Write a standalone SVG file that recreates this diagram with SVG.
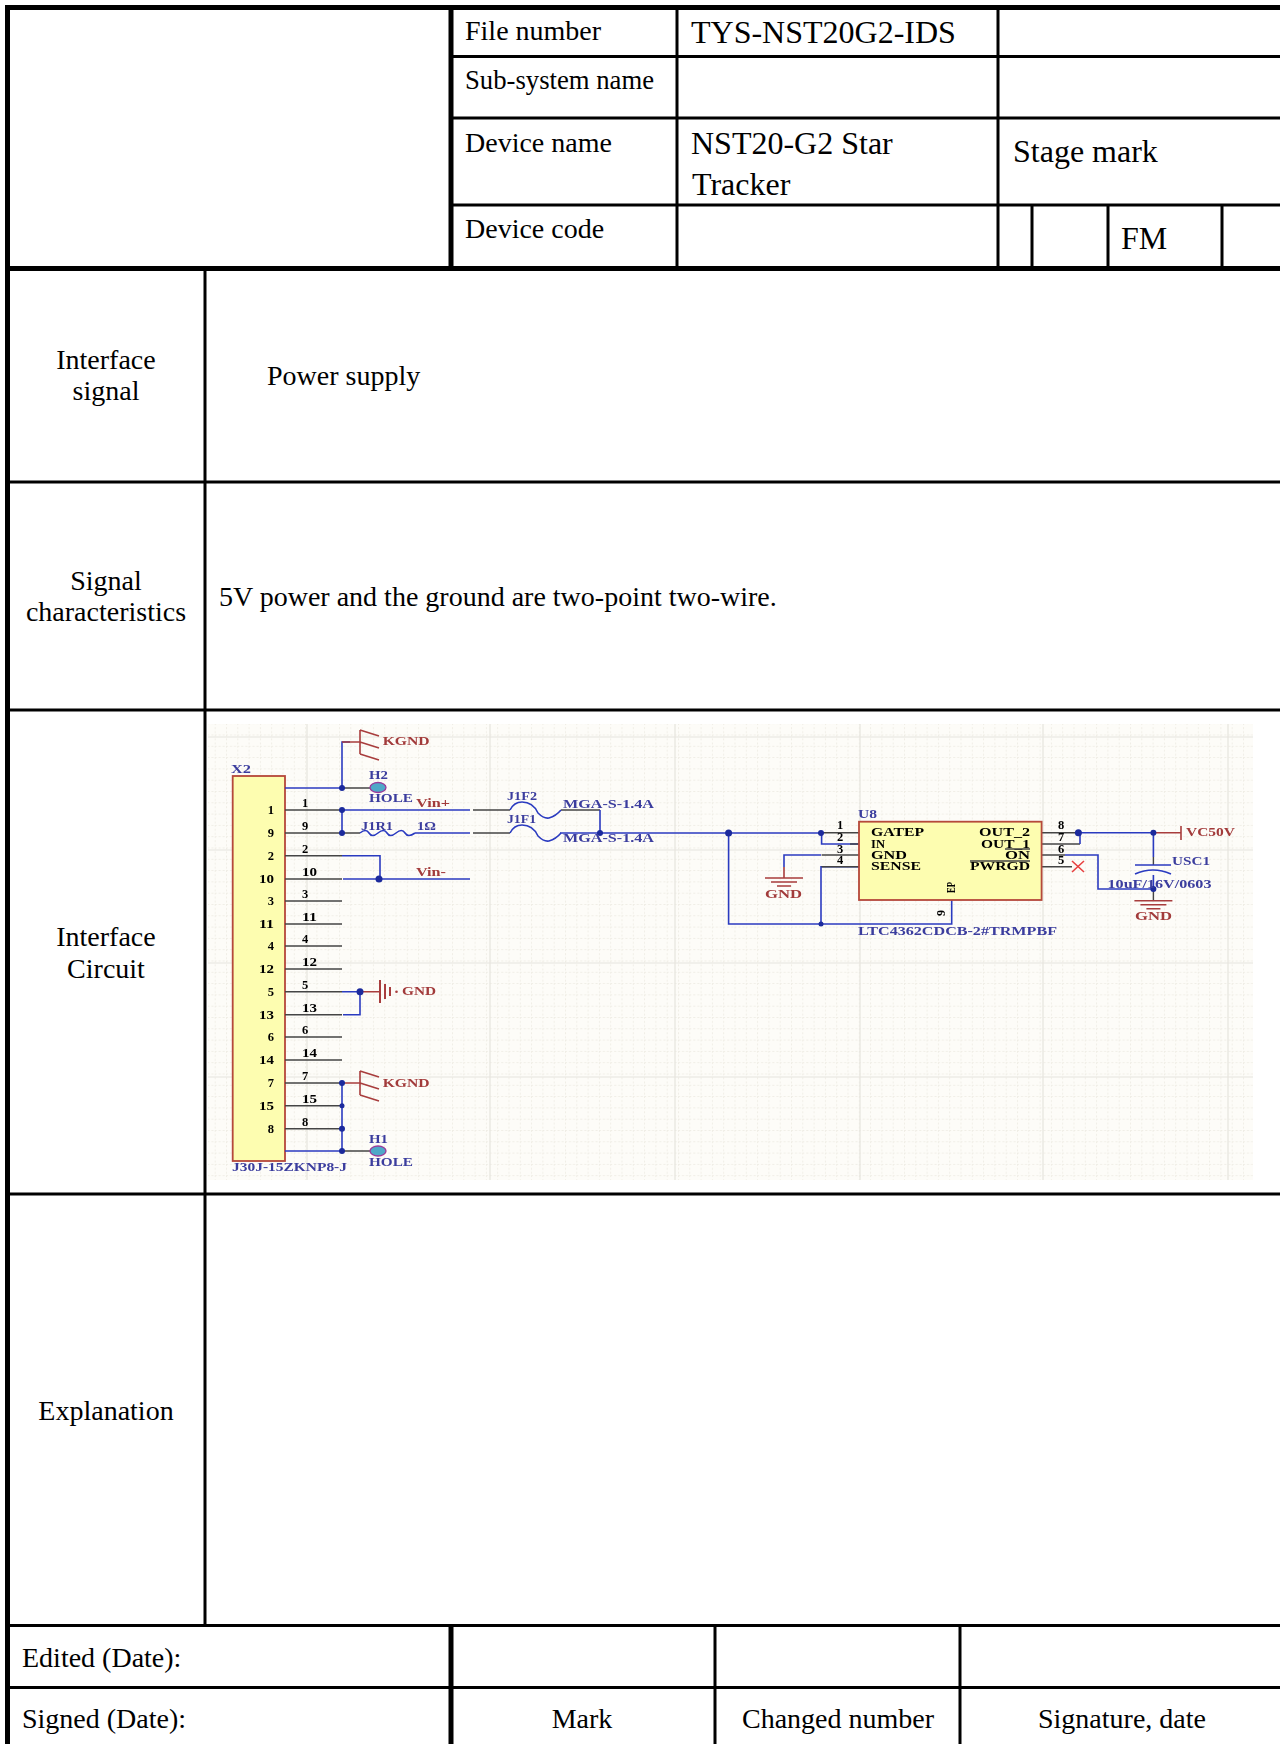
<svg xmlns="http://www.w3.org/2000/svg" width="1280" height="1744" viewBox="0 0 1280 1744">
<defs>
<style>
text{font-family:"Liberation Serif","Times New Roman",serif;fill:#000}
.t{font-size:28px}.b{font-size:32px}.m{text-anchor:middle}
.ln{stroke:#000;stroke-width:3;fill:none}
.th{stroke:#000;stroke-width:5;fill:none}
.s text{font-size:12.5px;font-weight:bold;stroke-width:0}
.s .bl{fill:#3b3d9e}.s .rd{fill:#a23a3a}.s .dk{fill:#555}
.w{stroke:#2b3bc0;stroke-width:1.6;fill:none}
.k{stroke:#444;stroke-width:1.4;fill:none}
.r{stroke:#a83c3c;stroke-width:1.6;fill:none}
.j{fill:#1a2a9c}
.grid{stroke:#e6e4de;stroke-width:1.2;fill:none}
</style>
<filter id="soft" x="-2%" y="-2%" width="104%" height="104%"><feGaussianBlur stdDeviation="0.5"/></filter>
<pattern id="dots" width="11.3" height="11.3" patternUnits="userSpaceOnUse"><path d="M0 .5H11.3M.5 0V11.3" stroke="#efede5" stroke-width="1" stroke-dasharray="2 2"/></pattern>
<g id="kg"><path class="r" d="M360 -12V12M360 -12L379 -6M360 0L379 6M360 12L379 18"/></g>
<g id="gn"><path class="r" d="M-19 0H19M-13 4H13M-7 8H7"/></g>
</defs>
<rect width="1280" height="1744" fill="#fff"/>

<g id="schematic" class="s" filter="url(#soft)">
<rect x="208" y="724" width="1045" height="456" fill="#fdfcf8"/>
<rect x="208" y="724" width="1045" height="456" fill="url(#dots)"/>
<path class="grid" d="M208 737H1253M208 850H1253M208 963H1253M208 1077H1253M307 724V1180M490 724V1180M675 724V1180M860 724V1180M1043 724V1180M1228 724V1180"/>

<g id="x2">
<rect x="232.700" y="776" width="52.300" height="385" fill="#fdfdb0" stroke="#b5483a" stroke-width="1.800"/>
<text class="bl" x="231" y="773" textLength="20" lengthAdjust="spacingAndGlyphs">X2</text>
<text class="bl" x="232" y="1171" textLength="115" lengthAdjust="spacingAndGlyphs">J30J-15ZKNP8-J</text>
<g class="dk" text-anchor="end">
<text x="274" y="814">1</text><text x="274" y="837">9</text><text x="274" y="860">2</text><text x="274" y="883" textLength="15" lengthAdjust="spacingAndGlyphs">10</text><text x="274" y="905">3</text><text x="274" y="928" textLength="15" lengthAdjust="spacingAndGlyphs">11</text><text x="274" y="950">4</text><text x="274" y="973" textLength="15" lengthAdjust="spacingAndGlyphs">12</text><text x="274" y="996">5</text><text x="274" y="1019" textLength="15" lengthAdjust="spacingAndGlyphs">13</text><text x="274" y="1041">6</text><text x="274" y="1064" textLength="15" lengthAdjust="spacingAndGlyphs">14</text><text x="274" y="1087">7</text><text x="274" y="1110" textLength="15" lengthAdjust="spacingAndGlyphs">15</text><text x="274" y="1133">8</text>
</g>
<g class="dk">
<text x="302" y="807">1</text><text x="302" y="830">9</text><text x="302" y="853">2</text><text x="302" y="876" textLength="15" lengthAdjust="spacingAndGlyphs">10</text><text x="302" y="898">3</text><text x="302" y="921" textLength="15" lengthAdjust="spacingAndGlyphs">11</text><text x="302" y="943">4</text><text x="302" y="966" textLength="15" lengthAdjust="spacingAndGlyphs">12</text><text x="302" y="989">5</text><text x="302" y="1012" textLength="15" lengthAdjust="spacingAndGlyphs">13</text><text x="302" y="1034">6</text><text x="302" y="1057" textLength="15" lengthAdjust="spacingAndGlyphs">14</text><text x="302" y="1080">7</text><text x="302" y="1103" textLength="15" lengthAdjust="spacingAndGlyphs">15</text><text x="302" y="1126">8</text>
</g>
</g>

<g id="connectors">
<path class="k" d="M285 810H342M285 833H360M285 855.700H342M285 879H342M285 901H342M285 924H342M285 946H342M285 969H342M285 991.700H342M285 1014.700H342M285 1037H342M285 1060H342M285 1083H342M285 1105.700H342M285 1128.700H342M342 788H371M342 1151H371M473 810H510M473 833H510M561 810H600"/>
<path class="w" d="M285 788H342V742H350M342 810H470M342 810V833M415 833H470M285 1151H342M342 1083V1151M342 855.700H380V879M343 879H470M342 991.700H360V1014.700H343M600 810V833M560 833H821.600M821.600 833V844H859M728.600 833V924H951.700V900M821 924V866.700H859"/>
<path class="w" d="M360 833q6 -5 9 0t9 0t9 0t9 0t9 0t10 0"/>
<path class="w" d="M510 810q4 -8 12 -8q11 0 16 11q6 6 11 5q7 -2 12 -8M510 833q4 -8 12 -8q11 0 16 11q6 6 11 5q7 -2 12 -8"/>
<path class="k" d="M821.600 855H859M821.600 866.700H859M821.600 832.700H859M859 844H850M1041.600 832.700H1080M1041.600 844H1080M1041.600 855H1065M1041.600 866.700H1072"/>
<path class="w" d="M1080 832.700H1153.400M1080 832.700V844M1065 855H1098V889H1153.400M821 855H784V867M1153.400 832.700V857M1153.400 875V889"/>
<path class="k" d="M1153.400 857V865M1153.400 889V900"/>
<path class="r" d="M784 867V878M1153.400 832.700H1181M1181 826V840M342 742H360M360 991.700H380M342 1083H360"/>
<path class="r" d="M1072 861L1084 872M1072 872L1084 861" style="stroke:#e84040"/>
<path class="w" d="M1135 865H1171M1135 874Q1153 866 1171 874"/>
<g class="j">
<circle cx="342" cy="788" r="3"/><circle cx="342" cy="810" r="3"/><circle cx="342" cy="833" r="3"/><circle cx="379" cy="879" r="3.500"/><circle cx="600" cy="833" r="3"/><circle cx="360" cy="991.700" r="3.500"/><circle cx="342" cy="1083" r="3"/><circle cx="342" cy="1105.700" r="2.500"/><circle cx="342" cy="1128.700" r="3"/><circle cx="342" cy="1151" r="3"/><circle cx="728.600" cy="833" r="3.500"/><circle cx="821" cy="833" r="3"/><circle cx="821" cy="924" r="2.500"/><circle cx="1078.400" cy="832.700" r="3.500"/><circle cx="1153.400" cy="832.700" r="3"/><circle cx="1153.400" cy="889" r="3"/>
</g>
</g>

<g id="kgnd-top"><use href="#kg" y="742"/><text class="rd" x="382.700" y="745" textLength="47" lengthAdjust="spacingAndGlyphs">KGND</text></g>
<g id="kgnd-bottom"><use href="#kg" y="1083"/><text class="rd" x="382.700" y="1087" textLength="47" lengthAdjust="spacingAndGlyphs">KGND</text></g>
<g id="gnd-chassis"><path class="r" style="stroke-width:2" d="M380 980V1003M385 984V999M390 987V996"/><circle cx="396.500" cy="991.700" r="1.300" fill="#a83c3c"/><text class="rd" x="402" y="995" textLength="34" lengthAdjust="spacingAndGlyphs">GND</text></g>
<g id="h2"><ellipse cx="378" cy="787.500" rx="8" ry="5" fill="#4fa8c8" stroke="#9a3a9a" stroke-width="1.300"/><text class="bl" x="369" y="779" textLength="19" lengthAdjust="spacingAndGlyphs">H2</text><text class="bl" x="369" y="802" textLength="44" lengthAdjust="spacingAndGlyphs">HOLE</text></g>
<g id="h1"><ellipse cx="378" cy="1151" rx="8" ry="5" fill="#4fa8c8" stroke="#9a3a9a" stroke-width="1.300"/><text class="bl" x="369" y="1143" textLength="19" lengthAdjust="spacingAndGlyphs">H1</text><text class="bl" x="369" y="1166" textLength="44" lengthAdjust="spacingAndGlyphs">HOLE</text></g>
<g id="net-labels">
<text class="rd" x="416" y="807" textLength="34" lengthAdjust="spacingAndGlyphs">Vin+</text>
<text class="rd" x="416" y="876" textLength="30" lengthAdjust="spacingAndGlyphs">Vin-</text>
<text class="bl" x="361" y="830" textLength="32" lengthAdjust="spacingAndGlyphs">J1R1</text>
<text class="bl" x="417" y="830" textLength="19" lengthAdjust="spacingAndGlyphs">1Ω</text>
<text class="bl" x="507" y="800" textLength="30" lengthAdjust="spacingAndGlyphs">J1F2</text>
<text class="bl" x="507" y="823" textLength="29" lengthAdjust="spacingAndGlyphs">J1F1</text>
<text class="bl" x="563" y="808" textLength="91" lengthAdjust="spacingAndGlyphs">MGA-S-1.4A</text>
<text class="bl" x="563" y="842" textLength="91" lengthAdjust="spacingAndGlyphs">MGA-S-1.4A</text>
</g>
<g id="u8">
<rect x="859" y="821.700" width="182.600" height="78.300" fill="#fdfdb0" stroke="#b5483a" stroke-width="1.800"/>
<text class="bl" x="858" y="818" textLength="19" lengthAdjust="spacingAndGlyphs">U8</text>
<g class="dk">
<text x="871" y="836" textLength="53" lengthAdjust="spacingAndGlyphs">GATEP</text>
<text x="871" y="848" textLength="14" lengthAdjust="spacingAndGlyphs">IN</text>
<text x="871" y="859" textLength="36" lengthAdjust="spacingAndGlyphs">GND</text>
<text x="871" y="870" textLength="50" lengthAdjust="spacingAndGlyphs">SENSE</text>
<text x="979" y="836" textLength="51" lengthAdjust="spacingAndGlyphs">OUT_2</text>
<text x="981" y="848" textLength="49" lengthAdjust="spacingAndGlyphs">OUT_1</text>
<text x="1005" y="859" textLength="25" lengthAdjust="spacingAndGlyphs">ON</text>
<text x="970" y="870" textLength="60" lengthAdjust="spacingAndGlyphs">PWRGD</text>
<text x="837" y="829">1</text><text x="837" y="841">2</text><text x="837" y="853">3</text><text x="837" y="864">4</text>
<text x="1058" y="829">8</text><text x="1058" y="841">7</text><text x="1058" y="853">6</text><text x="1058" y="864">5</text>
<text transform="translate(955 893) rotate(-90)" style="font-size:13px" textLength="11" lengthAdjust="spacingAndGlyphs">EP</text>
<text transform="translate(945 916) rotate(-90)" style="font-size:12px">9</text>
</g>
<path class="k" d="M1005 849H1030M970 861H1030"/>
<text class="bl" x="858" y="935" textLength="199" lengthAdjust="spacingAndGlyphs">LTC4362CDCB-2#TRMPBF</text>
</g>
<g id="vc50v"><text class="rd" x="1186" y="836" textLength="49" lengthAdjust="spacingAndGlyphs">VC50V</text></g>
<g id="usc1"><text class="bl" x="1172" y="865" textLength="38" lengthAdjust="spacingAndGlyphs">USC1</text><text class="bl" x="1107.500" y="888" textLength="104" lengthAdjust="spacingAndGlyphs">10uF/16V/0603</text></g>
<g id="gnd-left"><use href="#gn" x="784" y="878"/><text class="rd" x="765" y="898" textLength="37" lengthAdjust="spacingAndGlyphs">GND</text></g>
<g id="gnd-right"><use href="#gn" x="1153.400" y="900.700"/><text class="rd" x="1135" y="920" textLength="37" lengthAdjust="spacingAndGlyphs">GND</text></g>
</g>

<g id="table">
<path class="th" d="M5 7.500H1280M7.500 5V1744M451 7.500V268.500M5 268.500H1280M451 1625V1744"/>
<path class="ln" d="M451 56.500H1280M451 118H1280M451 205H1280M677 7.500V268.500M998 7.500V268.500M1032 205V268.500M1108 205V268.500M1222 205V268.500M205 268.500V1625M7.500 482H1280M7.500 710H1280M7.500 1194H1280M7.500 1625.500H1280M7.500 1687.500H1280M715 1625V1744M960 1625V1744"/>
</g>
<g id="file-number"><text class="t" x="465" y="40">File number</text><text class="b" x="691" y="43">TYS-NST20G2-IDS</text></g>
<g id="subsystem"><text class="t" x="465" y="89" textLength="189" lengthAdjust="spacingAndGlyphs">Sub-system name</text></g>
<g id="device-name"><text class="t" x="465" y="152">Device name</text><text class="b" x="691" y="154">NST20-G2 Star</text><text class="b" x="692" y="195">Tracker</text><text class="b" x="1013" y="162">Stage mark</text></g>
<g id="device-code"><text class="t" x="465" y="238">Device code</text><text class="b" x="1121" y="249">FM</text></g>
<g id="interface-signal"><text class="t m" x="106" y="369">Interface</text><text class="t m" x="106" y="400">signal</text><text class="t" x="267" y="385">Power supply</text></g>
<g id="signal-characteristics"><text class="t m" x="106" y="590">Signal</text><text class="t m" x="106" y="621">characteristics</text><text class="t" x="219" y="606">5V power and the ground are two-point two-wire.</text></g>
<g id="interface-circuit"><text class="t m" x="106" y="946">Interface</text><text class="t m" x="106" y="978">Circuit</text></g>
<g id="explanation"><text class="t m" x="106" y="1420">Explanation</text></g>
<g id="footer"><text class="t" x="22" y="1667">Edited (Date):</text><text class="t" x="22" y="1728">Signed (Date):</text><text class="t m" x="582" y="1728">Mark</text><text class="t m" x="838" y="1728">Changed number</text><text class="t m" x="1122" y="1728">Signature, date</text></g>
</svg>
